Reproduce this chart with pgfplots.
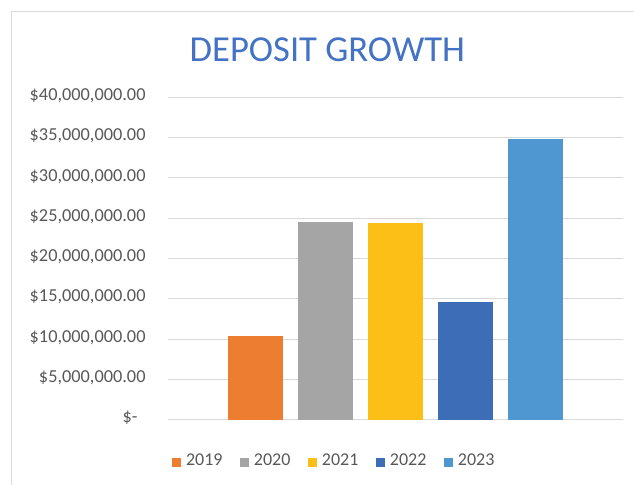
\documentclass[border=0pt]{standalone}
\usepackage{fontspec}
\setmainfont{Carlito}
\usepackage{pgfplots}
\pgfplotsset{compat=1.18}
\definecolor{c2019}{HTML}{ED7D31}
\definecolor{c2020}{HTML}{A5A5A5}
\definecolor{c2021}{HTML}{FCBF17}
\definecolor{c2022}{HTML}{3D6DB7}
\definecolor{c2023}{HTML}{4E97D1}
\definecolor{titleblue}{HTML}{4472C4}
\definecolor{tickgray}{HTML}{595959}
\definecolor{gridgray}{HTML}{D9D9D9}
\pgfplotsset{
  ybar legend/.style={legend image code/.code={\fill[##1,draw=none] (0bp,-4.5bp) rectangle (9bp,4.5bp);}},
}
\begin{document}
\begin{tikzpicture}
\useasboundingbox (0,0) rectangle (634bp,485bp);
\fill[white] (0,0) rectangle (634bp,485bp);
\draw[gridgray, line width=1bp] (11.5bp,0) -- (11.5bp,473.5bp) -- (634bp,473.5bp);
\node[inner sep=0pt, anchor=base west, text=titleblue,
      font=\fontsize{36.6bp}{36.6bp}\selectfont] at (189.5bp,423.3bp) {DEPOSIT GROWTH};
\begin{axis}[
  at={(168bp,65.3bp)}, anchor=south west,
  scale only axis, width=455bp, height=322.4bp,
  xmin=-0.5, xmax=0.5, ymin=0, ymax=40000000,
  xtick=\empty,
  ytick={0,5000000,10000000,15000000,20000000,25000000,30000000,35000000,40000000},
  yticklabels={{\$-\kern8bp},{\$5,000,000.00},{\$10,000,000.00},{\$15,000,000.00},{\$20,000,000.00},{\$25,000,000.00},{\$30,000,000.00},{\$35,000,000.00},{\$40,000,000.00}},
  yticklabel style={inner sep=0pt, anchor=east, xshift=-22.3bp, text=tickgray,
     font=\fontsize{18.3bp}{18.3bp}\selectfont, text height=0.632em, text depth=0pt},
  scaled y ticks=false,
  axis line style={draw=none},
  major tick length=0pt,
  ymajorgrids, grid style={gridgray, line width=1bp},
  ybar=15bp, bar width=55bp,
  legend image code/.code={\fill[#1,draw=none] (0bp,-4.5bp) rectangle (9bp,4.5bp);},
  legend columns=5,
  legend style={at={(axis description cs:0,0)}, anchor=west, xshift=3.7bp, yshift=-42.6bp,
     draw=none, fill=none, inner sep=0pt, outer sep=0pt,
     font=\fontsize{18bp}{18bp}\selectfont, text=tickgray,
     nodes={inner sep=0pt, text height=0.632em, text depth=0pt},
     /tikz/every odd column/.append style={column sep=5.3bp},
     /tikz/every even column/.append style={column sep=17.2bp}},
]
\addplot[fill=c2019, draw=none] coordinates {(0,10420000)};
\addplot[fill=c2020, draw=none] coordinates {(0,24570000)};
\addplot[fill=c2021, draw=none] coordinates {(0,24440000)};
\addplot[fill=c2022, draw=none] coordinates {(0,14640000)};
\addplot[fill=c2023, draw=none] coordinates {(0,34800000)};
\legend{2019,2020,2021,2022,2023}
\end{axis}
\end{tikzpicture}
\end{document}
